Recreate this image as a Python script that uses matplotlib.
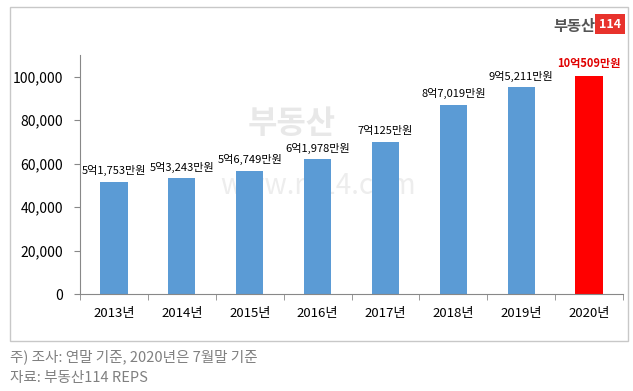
import matplotlib.pyplot as plt
from matplotlib.patches import Rectangle

plt.rcParams['font.family'] = ['Noto Sans CJK KR', 'DejaVu Sans']

# 아파트 평균 매매가 (만원)
years = ['2013년', '2014년', '2015년', '2016년', '2017년', '2018년', '2019년', '2020년']
values = [51753, 53243, 56749, 61978, 70125, 87019, 95211, 100509]
labels = ['5억1,753만원', '5억3,243만원', '5억6,749만원', '6억1,978만원',
          '7억125만원', '8억7,019만원', '9억5,211만원', '10억509만원']
yticks = [0, 20000, 40000, 60000, 80000, 100000]

fig = plt.figure(figsize=(6.33, 3.91), dpi=100)
fig.patch.set_facecolor('white')

# 바깥 테두리
fig.patches.append(Rectangle((10/633, 1-341/391), 618/633, 334/391,
                             transform=fig.transFigure, fill=False,
                             edgecolor='#c8c8c8', linewidth=1))

# 워터마크
fig.text(292/633, 1-124/391, '부동산', fontsize=23, fontweight='bold',
         color='#e8e8e8', ha='center', va='center', zorder=0)
fig.text(318/633, 1-186/391, 'www.r114.com', fontsize=20,
         color='#ededed', ha='center', va='center', zorder=0)

ax = fig.add_axes([80/633, 1-294/391, 543/633, 239/391])
ax.set_zorder(1)
ax.patch.set_alpha(0)
x = list(range(len(years)))
colors = ['#5b9bd5'] * (len(years) - 1) + ['#ff0000']
ax.bar(x, values, width=0.4, color=colors, zorder=2)

for i, (v, t) in enumerate(zip(values, labels)):
    last = i == len(values) - 1
    ax.text(i, v + 2500, t, ha='center', va='bottom', fontsize=8,
            color='#e00000' if last else 'black',
            fontweight='bold' if last else 'normal', zorder=3)

ax.set_xlim(-0.5, len(years) - 0.5)
ax.set_ylim(0, 110000)
ax.set_yticks(yticks)
ax.set_yticklabels([f'{t:,}' for t in yticks], fontsize=10)
ax.set_xticks(x)
ax.set_xticklabels(years, fontsize=9.5)
ax.set_xticks([i + 0.5 for i in range(-1, len(years))], minor=True)
ax.tick_params(axis='x', which='major', length=0, pad=9)
ax.tick_params(axis='x', which='minor', length=4, color='#888888')
ax.tick_params(axis='y', length=4, color='#888888', pad=8)
for s in ['top', 'right']:
    ax.spines[s].set_visible(False)
ax.spines['left'].set_color('#888888')
ax.spines['bottom'].set_color('#888888')

# 로고
fig.text(595/633, 1-26/391, '부동산', fontsize=11, fontweight='bold',
         color='#555555', ha='right', va='center')
fig.text(610/633, 1-24/391, '114', fontsize=9, fontweight='bold', color='white',
         ha='center', va='center',
         bbox=dict(boxstyle='square,pad=0.3', facecolor='#e8322c', edgecolor='none'))

# 주석
fig.text(10/633, 1-357/391, '주) 조사: 연말 기준, 2020년은 7월말 기준',
         fontsize=10.5, color='#808080', ha='left', va='center')
fig.text(10/633, 1-378/391, '자료: 부동산114 REPS',
         fontsize=10.5, color='#808080', ha='left', va='center')

fig.savefig('out.png', dpi=100)
